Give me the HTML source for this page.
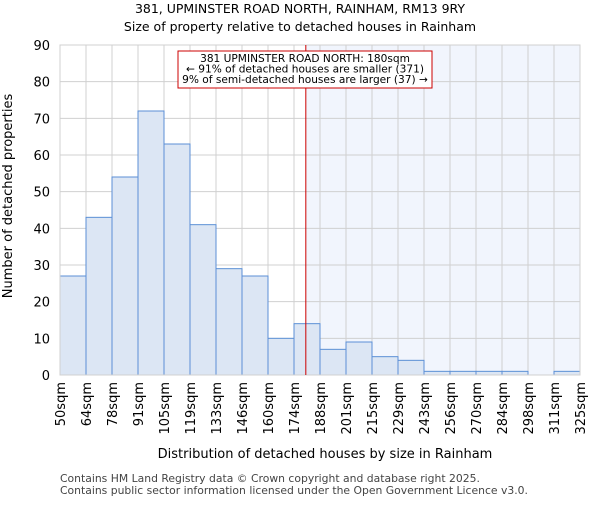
<!DOCTYPE html>
<html><head><meta charset="utf-8"><style>body{margin:0;background:#fff}svg text{font-family:"DejaVu Sans","Liberation Sans",sans-serif}</style></head>
<body>
<svg id="c" width="600" height="500" xmlns="http://www.w3.org/2000/svg">
<text x="300" y="13" text-anchor="middle" font-size="12.5">381, UPMINSTER ROAD NORTH, RAINHAM, RM13 9RY</text>
<text x="300" y="31" text-anchor="middle" font-size="12.5">Size of property relative to detached houses in Rainham</text>
<g id="plot"></g>
<text x="325" y="458" text-anchor="middle" font-size="13">Distribution of detached houses by size in Rainham</text>
<text transform="translate(12,196) rotate(-90)" text-anchor="middle" font-size="13">Number of detached properties</text>
<text x="60" y="482" font-size="10.8" fill="#444">Contains HM Land Registry data © Crown copyright and database right 2025.</text>
<text x="60" y="494" font-size="10.8" fill="#444">Contains public sector information licensed under the Open Government Licence v3.0.</text>
</svg>
<script>
const categories=["50sqm","64sqm","78sqm","91sqm","105sqm","119sqm","133sqm","146sqm","160sqm","174sqm","188sqm","201sqm","215sqm","229sqm","243sqm","256sqm","270sqm","284sqm","298sqm","311sqm","325sqm"];
const counts=[27,43,54,72,63,41,29,27,10,14,7,9,5,4,1,1,1,1,0,1];
const yTicks=[0,10,20,30,40,50,60,70,80,90];
const marker=180;
const binStart=50, binEnd=325;
const NS="http://www.w3.org/2000/svg";
const L=60,R=580,T=45,B=375;
const n=counts.length, bw=(R-L)/n;
const xi=i=>L+i*bw;
const y=v=>B-(v/90)*(B-T);
const xv=v=>L+(v-binStart)/(binEnd-binStart)*(R-L);
const g=document.getElementById('plot');
function mk(t,a){const e=document.createElementNS(NS,t);for(const k in a)e.setAttribute(k,a[k]);g.appendChild(e);return e;}
const mx=xv(marker);
let e=mk('rect',{x:mx,y:T,width:R-mx,height:B-T,fill:'#f1f5fd'});


for(let i=0;i<=n;i++){e=mk('line',{x1:xi(i),x2:xi(i),y1:T,y2:B,stroke:'#d0d0d0'});

}
yTicks.forEach(v=>{e=mk('line',{x1:L,x2:R,y1:y(v),y2:y(v),stroke:'#d0d0d0'});


const t=mk('text',{x:L-10,y:y(v)+5,'text-anchor':'end','font-size':13});t.textContent=v;

});
counts.forEach((c,i)=>{const r=mk('rect',{x:xi(i),y:y(c),width:bw,height:B-y(c),fill:'#dce6f4',stroke:'#5b8fd6','stroke-width':1});

});
e=mk('rect',{x:L,y:T,width:R-L,height:B-T,fill:'none',stroke:'#d0d0d0'});


categories.forEach((c,i)=>{const t=mk('text',{transform:`translate(${xi(i)+5},382) rotate(-90)`,'text-anchor':'end','font-size':13});t.textContent=c;

});
e=mk('line',{x1:mx,x2:mx,y1:T,y2:B,stroke:'#cc0000','stroke-width':1});


e=mk('rect',{x:178,y:51,width:254,height:37,fill:'#fff',stroke:'#cc0000'});


["381 UPMINSTER ROAD NORTH: 180sqm","← 91% of detached houses are smaller (371)","9% of semi-detached houses are larger (37) →"].forEach((s,i)=>{const t=mk('text',{x:305,y:62+i*10.5,'text-anchor':'middle','font-size':10.6});t.textContent=s;

});
</script>
</body></html>
